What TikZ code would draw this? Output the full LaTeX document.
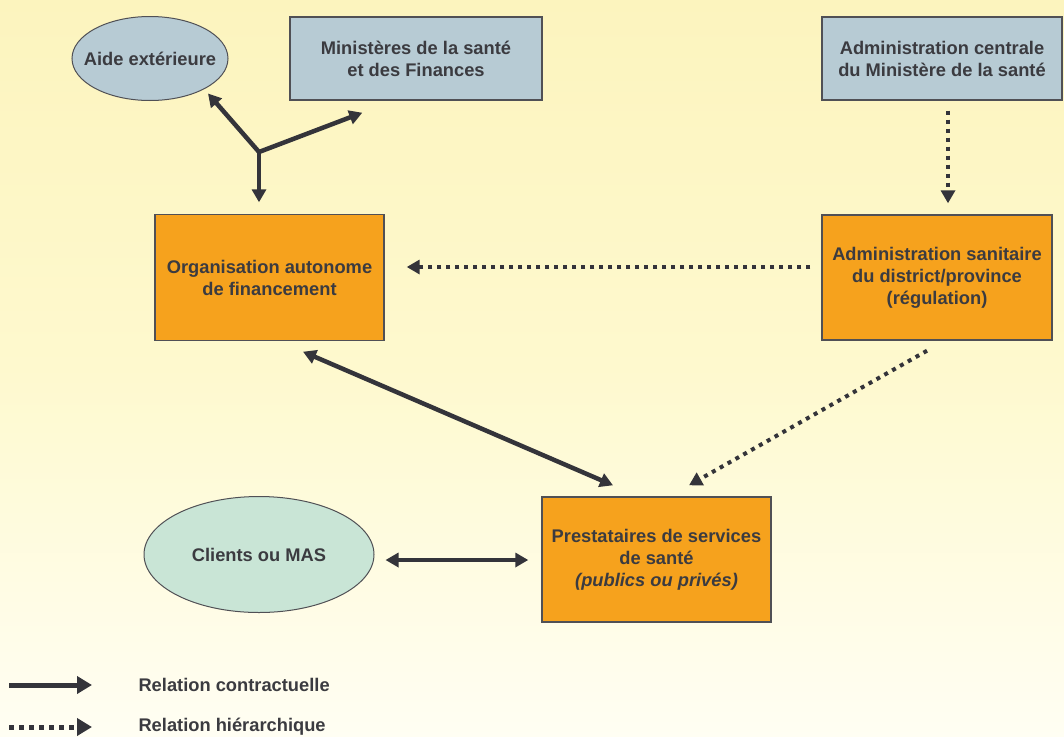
\documentclass[tikz,border=0pt]{standalone}
\usepackage{fontspec}
\setmainfont{Liberation Sans}
\usetikzlibrary{shapes.geometric,arrows.meta,calc}
\definecolor{bgtop}{HTML}{FCF4BE}
\definecolor{bgmid}{HTML}{FEF9CE}
\definecolor{bgbot}{HTML}{FFFEF3}
\definecolor{ink}{HTML}{3B3B40}
\definecolor{arr}{HTML}{34343A}
\definecolor{orangebox}{HTML}{F6A21D}
\definecolor{bluebox}{HTML}{B7CBD4}
\definecolor{mint}{HTML}{C9E5D6}
\definecolor{edge}{HTML}{505055}
\begin{document}
\begin{tikzpicture}[x=1pt,y=-1pt,
  every node/.style={font=\fontsize{18.3}{22}\selectfont\bfseries, text=ink, align=center},
  bluerect/.style={rectangle, draw=edge, line width=1.4pt, fill=bluebox, inner sep=0pt},
  orect/.style={rectangle, draw=edge, line width=1.4pt, fill=orangebox, inner sep=0pt},
  oval/.style={ellipse, draw=edge, line width=1pt, inner sep=0pt},
  contract/.style={draw=arr, line width=4.5pt, -{Triangle[length=13pt,width=14pt]}},
  contract2/.style={draw=arr, line width=4.5pt, {Triangle[length=13pt,width=14pt]}-{Triangle[length=13pt,width=14pt]}},
  hier/.style={draw=arr, line width=4pt, dash pattern=on 4pt off 5pt, -{Triangle[length=13pt,width=14pt]}},
  legtext/.style={anchor=west}
]
\useasboundingbox (0,0) rectangle (1064,736);
\shade[top color=bgtop, bottom color=bgbot, middle color=bgmid] (0,0) rectangle (1064,736);

% nodes
\node[oval, fill=bluebox, inner xsep=-12pt, minimum width=156pt, minimum height=84pt] (aide) at (150,58.5) {Aide extérieure};
\node[bluerect, minimum width=252pt, minimum height=83pt] (min) at (416,58.5) {Ministères de la santé\\et des Finances};
\node[bluerect, minimum width=240pt, minimum height=83pt] (admc) at (942,58.5) {Administration centrale\\du Ministère de la santé};
\node[orect, minimum width=229pt, minimum height=126pt] (org) at (269.5,277.5) {Organisation autonome\\de financement};
\node[orect, minimum width=230pt, minimum height=125pt] (adms) at (937,277.5) {Administration sanitaire\\du district/province\\(régulation)};
\node[orect, minimum width=229pt, minimum height=125pt] (prest) at (656.5,559.5) {Prestataires de services\\de santé\\{\itshape (publics ou privés)}};
\node[oval, fill=mint, minimum width=230pt, minimum height=116pt] (clients) at (259,554.5) {Clients ou MAS};

% junction
\coordinate (j) at (259,152);
\draw[contract] (j) -- ([xshift=58pt,yshift=7.5pt]aide.south);
\draw[contract] (j) -- ([xshift=73pt,yshift=-12pt]min.south west);
\draw[contract] (j) -- ([xshift=-10.5pt,yshift=11.5pt]org.north);

% contractual
\draw[contract2] ([xshift=33.5pt,yshift=-10.5pt]org.south) -- ([xshift=-43.5pt,yshift=11pt]prest.north);
\draw[contract2] ([xshift=11pt,yshift=-5.5pt]clients.east) -- ([xshift=-13pt,yshift=-0.5pt]prest.west);

% hierarchical
\draw[hier] ([xshift=6pt,yshift=-10pt]admc.south) -- ([xshift=11pt,yshift=11pt]adms.north);
\draw[hier] ([xshift=-11pt,yshift=10.5pt]adms.west) -- ([xshift=22pt,yshift=10.5pt]org.east);
\draw[hier] ([xshift=-10pt,yshift=-10pt]adms.south) -- ([xshift=32.5pt,yshift=11pt]prest.north);

% legend
\coordinate (la) at (9,685);
\coordinate (lb) at (92,685);
\coordinate (lc) at (9,727);
\coordinate (ld) at (92,727);
\draw[draw=arr, line width=5pt, -{Triangle[length=15pt,width=17pt]}] (la) -- (lb);
\draw[draw=arr, line width=5pt, dash pattern=on 5pt off 5pt, -{Triangle[length=15pt,width=17pt]}] (lc) -- (ld);
\node[legtext] (lt1) at (135,685) {Relation contractuelle};
\node[legtext] (lt2) at (135,727) {Relation hiérarchique};
\end{tikzpicture}
\end{document}
